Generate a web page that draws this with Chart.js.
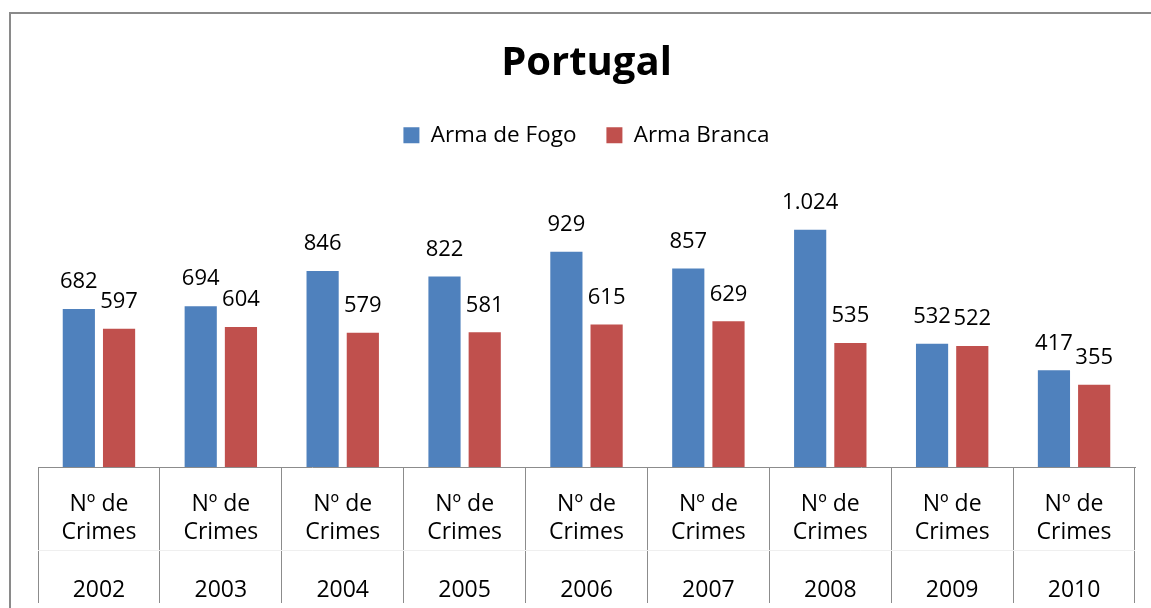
<!DOCTYPE html>
<html lang="pt">
<head>
    <meta charset="UTF-8">
    <title>Portugal - Arma de Fogo / Arma Branca</title>
    <script src="https://cdn.jsdelivr.net/npm/chart.js"></script>
    <style>
        body {
            margin: 0;
            background: #ffffff;
            overflow: hidden;
        }
        .moldura {
            position: absolute;
            left: 9px;
            top: 12px;
            width: 1200px;
            height: 700px;
            border-left: 2px solid #8a8a8a;
            border-top: 2px solid #8a8a8a;
        }
        #grafico {
            position: absolute;
            left: 0;
            top: 0;
        }
    </style>
</head>
<body>
    <div class="moldura"></div>
    <canvas id="grafico" width="1151" height="608"></canvas>

    <script>
        // Dados
        const anos = ['2002', '2003', '2004', '2005', '2006', '2007', '2008', '2009', '2010'];
        const categoria = ['Nº de', 'Crimes'];
        const armaFogo = [682, 694, 846, 822, 929, 857, 1024, 532, 417];
        const armaBranca = [597, 604, 579, 581, 615, 629, 535, 522, 355];

        const fonte = 'Open Sans';

        // rótulos do eixo: "Nº de / Crimes" e o ano por baixo
        const rotulos = anos.map(a => [...categoria, '', a]);

        // formato português: 1.024
        function formatar(v) {
            return String(v).replace(/\B(?=(\d{3})+(?!\d))/g, '.');
        }

        // valores por cima das barras
        const etiquetas = {
            id: 'etiquetas',
            afterDatasetsDraw(chart) {
                const ctx = chart.ctx;
                ctx.save();
                ctx.font = '22px "' + fonte + '"';
                ctx.fillStyle = '#000000';
                ctx.textAlign = 'center';
                ctx.textBaseline = 'middle';
                chart.data.datasets.forEach((ds, i) => {
                    chart.getDatasetMeta(i).data.forEach((barra, j) => {
                        ctx.fillText(formatar(ds.data[j]), barra.x, barra.y - 27);
                    });
                });
                ctx.restore();
            }
        };

        // linha clara entre "Crimes" e o ano
        const divisoria = {
            id: 'divisoria',
            afterDraw(chart) {
                const x = chart.scales.x;
                const ctx = chart.ctx;
                ctx.save();
                ctx.strokeStyle = '#efefef';
                ctx.lineWidth = 1;
                ctx.beginPath();
                ctx.moveTo(x.left, x.top + 83.5);
                ctx.lineTo(x.right, x.top + 83.5);
                ctx.stroke();
                ctx.restore();
            }
        };

        new Chart(document.getElementById('grafico'), {
            type: 'bar',
            data: {
                labels: rotulos,
                datasets: [
                    {
                        label: 'Arma de Fogo',
                        data: armaFogo,
                        backgroundColor: '#4F81BD',
                        barPercentage: 0.8,
                        categoryPercentage: 0.66
                    },
                    {
                        label: 'Arma Branca',
                        data: armaBranca,
                        backgroundColor: '#C0504D',
                        barPercentage: 0.8,
                        categoryPercentage: 0.66
                    }
                ]
            },
            options: {
                responsive: false,
                animation: false,
                layout: {
                    padding: { left: 38, right: 16, top: 0, bottom: 5 }
                },
                plugins: {
                    title: {
                        display: true,
                        text: 'Portugal',
                        color: '#000000',
                        font: { family: fonte, size: 40, weight: 'bold' },
                        padding: { top: 40, bottom: 6 }
                    },
                    legend: {
                        position: 'top',
                        labels: {
                            color: '#000000',
                            boxWidth: 16,
                            boxHeight: 16,
                            padding: 30,
                            font: { family: fonte, size: 22.5 }
                        }
                    },
                    tooltip: { enabled: false }
                },
                scales: {
                    x: {
                        grid: {
                            drawOnChartArea: false,
                            color: '#8c8c8c',
                            tickLength: 136
                        },
                        border: { display: true, color: '#8c8c8c' },
                        ticks: {
                            color: '#000000',
                            padding: -113,
                            maxRotation: 0,
                            autoSkip: false,
                            font: { family: fonte, size: 23, lineHeight: '28.6px' }
                        },
                        afterFit(escala) {
                            escala.height = 136;
                        }
                    },
                    y: {
                        display: false,
                        min: 0,
                        max: 1340
                    }
                }
            },
            plugins: [etiquetas, divisoria]
        });
    </script>
</body>
</html>
